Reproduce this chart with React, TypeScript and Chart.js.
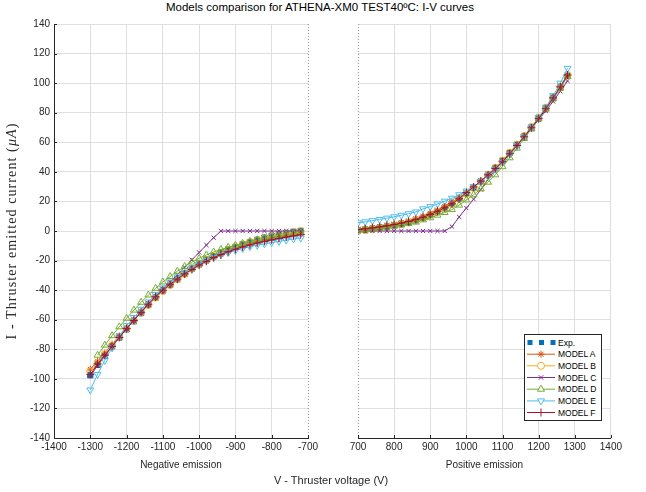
import React, { useEffect, useRef } from "react";
import { Chart, registerables } from "chart.js";

Chart.register(...registerables);

// ---------- DATA ----------
const negVoltage = [-1300, -1280, -1260, -1240, -1220, -1200, -1180, -1160, -1140, -1120, -1100, -1080, -1060, -1040, -1020, -1000, -980, -960, -940, -920, -900, -880, -860, -840, -820, -800, -780, -760, -740, -720];
const posVoltage = [700, 720, 740, 760, 780, 800, 820, 840, 860, 880, 900, 920, 940, 960, 980, 1000, 1020, 1040, 1060, 1080, 1100, 1120, 1140, 1160, 1180, 1200, 1220, 1240, 1260, 1280];

const negExp = [-97.5, -90.5, -84.5, -78, -72, -66.5, -61, -55.5, -50, -45, -40.5, -36.5, -32.5, -29, -25.5, -22.5, -19.5, -17, -14.5, -12.5, -11, -9, -7.5, -6, -4.5, -3.3, -2.3, -1.4, -0.6, 0];
const negA = [-93.5, -88, -82.5, -76.5, -71, -65.5, -60, -55, -50, -45, -40.5, -36.5, -33, -29.5, -26, -23, -20.5, -18, -15.8, -13.8, -12, -10.4, -9, -7.7, -6.5, -5.4, -4.4, -3.5, -2.6, -1.8];
const negB = [-95, -89.5, -83.5, -77.5, -71.5, -66, -60.5, -55, -50, -45, -40.5, -36.5, -32.5, -29, -25.5, -22.5, -19.8, -17.2, -15, -12.8, -10.9, -9.2, -7.6, -6.2, -4.9, -3.7, -2.7, -1.7, -0.8, 0];
const negC = [-98, -91, -84.5, -78, -72, -66, -60, -54.5, -49, -44, -39, -34.5, -29.5, -24.5, -19.5, -14.5, -9.5, -4.5, 0, 0, 0, 0, 0, 0, 0, 0, 0, 0, 0, 0];
const negD = [null, -84, -77.2, -70.8, -64.8, -59, -53.5, -48.2, -43.3, -38.8, -34.5, -30.8, -27.2, -24, -21, -18.5, -16.2, -14.2, -12.5, -11, -9.7, -8.3, -7, -5.9, -4.9, -4, -3.2, -2.5, -1.8, -1.2];
const negE = [-107.5, -97, -87.5, -79, -71, -64, -58.5, -53, -48, -43, -38.5, -34.5, -31, -27.8, -24.9, -22.3, -20, -18, -16.2, -14.6, -13.1, -11.8, -10.6, -9.6, -8.7, -7.8, -7, -6.2, -5.4, -4.8];
const negF = [-97, -90, -84, -78, -72, -66, -60.5, -55, -49.5, -44.5, -40, -36, -32.5, -29, -26, -23, -20.5, -18, -16, -14, -12.3, -10.8, -9.4, -8.1, -7, -6, -5, -4.1, -3.3, -2.5];

const posExp = [0.5, 1, 1.6, 2.3, 3, 3.9, 4.9, 6, 7.4, 9, 11, 13.2, 15.7, 18.6, 21.8, 25.4, 29.3, 33.5, 38, 42.7, 47.6, 52.8, 58.2, 64, 70, 76.3, 83, 90, 97.5, 105];
const posA = [1.2, 1.7, 2.3, 3, 3.8, 4.7, 5.7, 6.9, 8.3, 10, 12, 14.2, 16.7, 19.5, 22.6, 26, 29.8, 33.8, 38.2, 42.8, 47.7, 52.8, 58.2, 64, 70, 76.4, 83, 90, 97.3, 105];
const posB = [0, 0.6, 1.2, 1.9, 2.7, 3.6, 4.6, 5.8, 7.2, 8.9, 10.9, 13.1, 15.6, 18.5, 21.7, 25.2, 29.1, 33.3, 37.8, 42.6, 47.6, 52.9, 58.5, 64.3, 70.4, 76.8, 83.4, 90.4, 97.7, 105.5];
const posC = [0, 0, 0, 0, 0, 0, 0, 0, 0, 0, 0, 0, 0, 3, 9.5, 15.5, 21.5, 28, 35, 41.5, 47, 52.5, 58, 63.5, 69.3, 75.2, 81.3, 87.6, 94.5, 101.5];
const posD = [0.5, 0.9, 1.4, 2, 2.6, 3.3, 4.1, 5, 6, 7.5, 9, 10.7, 12.5, 14.5, 17.5, 21, 24.5, 28.5, 33, 38, 43.5, 49.5, 56, 62.5, 69, 75.8, 82.5, 89.3, 96.5, 104.5];
const posE = [5.5, 6.2, 7, 7.8, 8.7, 9.6, 10.6, 11.7, 12.9, 15, 16.5, 18.3, 20.2, 22.2, 24.5, 27, 30, 33.5, 37.4, 41.8, 46.6, 52, 57.7, 63.7, 70, 76.7, 83.7, 91.5, 100, 110];
const posF = [1, 1.5, 2.1, 2.8, 3.5, 4.3, 5.3, 6.4, 7.7, 9.3, 11.2, 13.3, 15.7, 18.4, 21.8, 26, 29.8, 33.8, 38, 42.3, 46.8, 52.2, 57.8, 63.7, 69.8, 76, 82.7, 90, 97.5, 105.5];

const seriesLabels = ["Exp.", "MODEL A", "MODEL B", "MODEL C", "MODEL D", "MODEL E", "MODEL F"];
const negSeries = [negExp, negA, negB, negC, negD, negE, negF];
const posSeries = [posExp, posA, posB, posC, posD, posE, posF];

const negTicksX = [-1400, -1300, -1200, -1100, -1000, -900, -800, -700];
const posTicksX = [700, 800, 900, 1000, 1100, 1200, 1300, 1400];
const ticksY = [-140, -120, -100, -80, -60, -40, -20, 0, 20, 40, 60, 80, 100, 120, 140];

// ---------- STYLES ----------
const styles = [
  { color: "#0072BD", pointStyle: "rect", radius: 3.8, filled: true, line: false, rotation: 0 },
  { color: "#D95319", pointStyle: "star", radius: 3.5, filled: false, line: true, rotation: 0 },
  { color: "#EDB120", pointStyle: "circle", radius: 3.5, filled: false, line: true, rotation: 0 },
  { color: "#7E2F8E", pointStyle: "crossRot", radius: 3, filled: false, line: true, rotation: 0 },
  { color: "#77AC30", pointStyle: "triangle", radius: 4, filled: false, line: true, rotation: 0 },
  { color: "#4DBEEE", pointStyle: "triangle", radius: 4, filled: false, line: true, rotation: 180 },
  { color: "#A2142F", pointStyle: "cross", radius: 4, filled: false, line: true, rotation: 0 },
];

const FONT = "'Liberation Sans', Arial, Helvetica, sans-serif";
const TEXT = "#262626";
const GRID = "#dfdfdf";

const W = 646;
const H = 492;
const CANVAS_H = 480;
const TOP = 24;
const XAXIS_H = 42;

function buildDatasets(xs: number[], series: (number | null)[][]) {
  return series.map((ys, i) => {
    const s = styles[i];
    return {
      label: seriesLabels[i],
      data: xs.map((x, j) => ({ x, y: ys[j] })),
      borderColor: s.color,
      backgroundColor: s.filled ? s.color : "rgba(0,0,0,0)",
      pointBackgroundColor: s.filled ? s.color : "rgba(0,0,0,0)",
      pointBorderColor: s.color,
      pointStyle: s.pointStyle,
      pointRadius: s.radius,
      pointRotation: s.rotation,
      pointBorderWidth: 1,
      borderWidth: 1,
      showLine: s.line,
      tension: 0,
      order: 6 - i,
    };
  });
}

function makeChart(canvas: HTMLCanvasElement, side: "neg" | "pos") {
  const isNeg = side === "neg";
  const xs = isNeg ? negVoltage : posVoltage;
  const series = isNeg ? negSeries : posSeries;
  const tickVals = isNeg ? negTicksX : posTicksX;
  const edgeVal = isNeg ? -700 : 700;

  const edgePlugin = {
    id: "edgeAndTicks" + side,
    afterDraw(chart: any) {
      const { ctx, chartArea, scales } = chart;
      ctx.save();
      ctx.strokeStyle = "#9a9a9a";
      ctx.lineWidth = 1;
      ctx.setLineDash([1, 2]);
      const ex = Math.round(scales.x.getPixelForValue(edgeVal)) + 0.5;
      ctx.beginPath();
      ctx.moveTo(ex, chartArea.top);
      ctx.lineTo(ex, chartArea.bottom);
      ctx.stroke();
      ctx.setLineDash([]);
      ctx.strokeStyle = TEXT;
      tickVals.forEach((v) => {
        const x = Math.round(scales.x.getPixelForValue(v)) + 0.5;
        ctx.beginPath();
        ctx.moveTo(x, chartArea.bottom);
        ctx.lineTo(x, chartArea.bottom - 3);
        ctx.stroke();
      });
      if (isNeg) {
        ticksY.forEach((v) => {
          const y = Math.round(scales.y.getPixelForValue(v)) + 0.5;
          ctx.beginPath();
          ctx.moveTo(chartArea.left, y);
          ctx.lineTo(chartArea.left + 3, y);
          ctx.stroke();
        });
      }
      ctx.restore();
    },
  };

  return new Chart(canvas, {
    type: "line",
    data: { datasets: buildDatasets(xs, series) as any },
    options: {
      animation: false,
      responsive: false,
      maintainAspectRatio: false,
      layout: {
        padding: isNeg
          ? { left: 0, right: 14, top: TOP, bottom: 0 }
          : { left: 12, right: 14, top: TOP, bottom: 0 },
      },
      plugins: {
        legend: { display: false },
        tooltip: { enabled: false },
        title: { display: false },
      },
      scales: {
        x: {
          type: "linear",
          min: isNeg ? -1400 : 700,
          max: isNeg ? -700 : 1400,
          afterBuildTicks: (scale: any) => {
            scale.ticks = tickVals.map((v) => ({ value: v }));
          },
          ticks: {
            callback: (v: any) => String(v),
            font: { family: FONT, size: 10 },
            color: TEXT,
            padding: 3,
            maxRotation: 0,
            autoSkip: false,
          },
          grid: {
            color: (c: any) => (c.tick && c.tick.value === edgeVal ? "rgba(0,0,0,0)" : GRID),
            drawTicks: false,
            lineWidth: 1,
          },
          border: { display: true, color: TEXT, width: 1 },
          title: {
            display: true,
            text: isNeg ? "Negative emission" : "Positive emission",
            font: { family: FONT, size: 10 },
            color: TEXT,
            padding: { top: 0, bottom: 9 },
          },
          afterFit: (scale: any) => {
            scale.height = XAXIS_H;
          },
        },
        y: {
          type: "linear",
          min: -140,
          max: 140,
          afterBuildTicks: (scale: any) => {
            scale.ticks = ticksY.map((v) => ({ value: v }));
          },
          ticks: {
            display: isNeg,
            callback: (v: any) => String(v),
            font: { family: FONT, size: 10 },
            color: TEXT,
            padding: 4,
          },
          grid: { color: GRID, drawTicks: false, lineWidth: 1 },
          border: { display: isNeg, color: TEXT, width: 1 },
          afterFit: (scale: any) => {
            scale.width = isNeg ? 54 : 0;
          },
        },
      },
    } as any,
    plugins: [edgePlugin],
  });
}

function Legend() {
  const rowY = [8.5, 20.2, 31.8, 43.5, 55.2, 66.9, 78.5];
  const mx = 17;
  const marker = (i: number, y: number) => {
    const c = styles[i].color;
    switch (i) {
      case 1:
        return (
          <g stroke={c} strokeWidth={1}>
            <line x1={mx - 3.5} y1={y} x2={mx + 3.5} y2={y} />
            <line x1={mx} y1={y - 3.5} x2={mx} y2={y + 3.5} />
            <line x1={mx - 2.5} y1={y - 2.5} x2={mx + 2.5} y2={y + 2.5} />
            <line x1={mx - 2.5} y1={y + 2.5} x2={mx + 2.5} y2={y - 2.5} />
          </g>
        );
      case 2:
        return <circle cx={mx} cy={y} r={3.5} fill="white" stroke={c} strokeWidth={1} />;
      case 3:
        return (
          <g stroke={c} strokeWidth={1}>
            <line x1={mx - 2.2} y1={y - 2.2} x2={mx + 2.2} y2={y + 2.2} />
            <line x1={mx - 2.2} y1={y + 2.2} x2={mx + 2.2} y2={y - 2.2} />
          </g>
        );
      case 4:
        return (
          <polygon
            points={`${mx},${y - 4} ${mx + 3.5},${y + 2} ${mx - 3.5},${y + 2}`}
            fill="white"
            stroke={c}
            strokeWidth={1}
          />
        );
      case 5:
        return (
          <polygon
            points={`${mx},${y + 4} ${mx + 3.5},${y - 2} ${mx - 3.5},${y - 2}`}
            fill="white"
            stroke={c}
            strokeWidth={1}
          />
        );
      case 6:
        return (
          <g stroke={c} strokeWidth={1}>
            <line x1={mx - 4} y1={y} x2={mx + 4} y2={y} />
            <line x1={mx} y1={y - 4} x2={mx} y2={y + 4} />
          </g>
        );
      default:
        return null;
    }
  };
  return (
    <svg width={78} height={87} style={{ position: "absolute", left: 524, top: 334 }}>
      <rect x={0.5} y={0.5} width={77} height={86} fill="white" stroke={TEXT} strokeWidth={1} />
      {seriesLabels.map((lab, i) => {
        const y = rowY[i];
        const c = styles[i].color;
        return (
          <g key={lab}>
            {i === 0 ? (
              <g fill={c}>
                <rect x={3.5} y={y - 2.5} width={5} height={5} />
                <rect x={15} y={y - 2.5} width={5} height={5} />
                <rect x={26.5} y={y - 2.5} width={5} height={5} />
              </g>
            ) : (
              <>
                <line x1={3} y1={y} x2={31} y2={y} stroke={c} strokeWidth={1} />
                {marker(i, y)}
              </>
            )}
            <text x={34} y={y + 3} fontFamily={FONT} fontSize={8.5} fill="#000">
              {lab}
            </text>
          </g>
        );
      })}
    </svg>
  );
}

export default function App() {
  const negRef = useRef<HTMLCanvasElement>(null);
  const posRef = useRef<HTMLCanvasElement>(null);

  useEffect(() => {
    const c1 = makeChart(negRef.current!, "neg");
    const c2 = makeChart(posRef.current!, "pos");
    return () => {
      c1.destroy();
      c2.destroy();
    };
  }, []);

  const negWidth = 308 + 14;
  const posLeft = 346;
  const posWidth = 611 + 14 - 346;

  return (
    <div
      style={{
        position: "fixed",
        left: 0,
        top: 0,
        width: W,
        height: H,
        background: "white",
        overflow: "hidden",
      }}
    >
      <div
        style={{
          position: "absolute",
          left: 0,
          top: 1,
          width: 640,
          textAlign: "center",
          fontFamily: FONT,
          fontSize: 11.5,
          color: "#000",
          whiteSpace: "nowrap",
        }}
      >
        Models comparison for ATHENA-XM0 TEST40ºC: I-V curves
      </div>
      <canvas
        ref={negRef}
        width={negWidth}
        height={CANVAS_H}
        style={{ position: "absolute", left: 0, top: 0, width: negWidth, height: CANVAS_H }}
      />
      <canvas
        ref={posRef}
        width={posWidth}
        height={CANVAS_H}
        style={{ position: "absolute", left: posLeft, top: 0, width: posWidth, height: CANVAS_H }}
      />
      <div
        style={{
          position: "absolute",
          left: 12 - 160,
          top: 231 - 9,
          width: 320,
          height: 18,
          lineHeight: "18px",
          textAlign: "center",
          transform: "rotate(-90deg)",
          transformOrigin: "160px 9px",
          fontFamily: "'Liberation Serif', 'DejaVu Serif', serif",
          fontSize: 14,
          letterSpacing: "1.1px",
          color: TEXT,
          whiteSpace: "nowrap",
        }}
      >
        I - Thruster emitted current (<i>μA</i>)
      </div>
      <div
        style={{
          position: "absolute",
          left: 0,
          top: 474,
          width: 662,
          textAlign: "center",
          fontFamily: FONT,
          fontSize: 11,
          color: TEXT,
          whiteSpace: "nowrap",
        }}
      >
        V - Thruster voltage (V)
      </div>
      <Legend />
    </div>
  );
}
